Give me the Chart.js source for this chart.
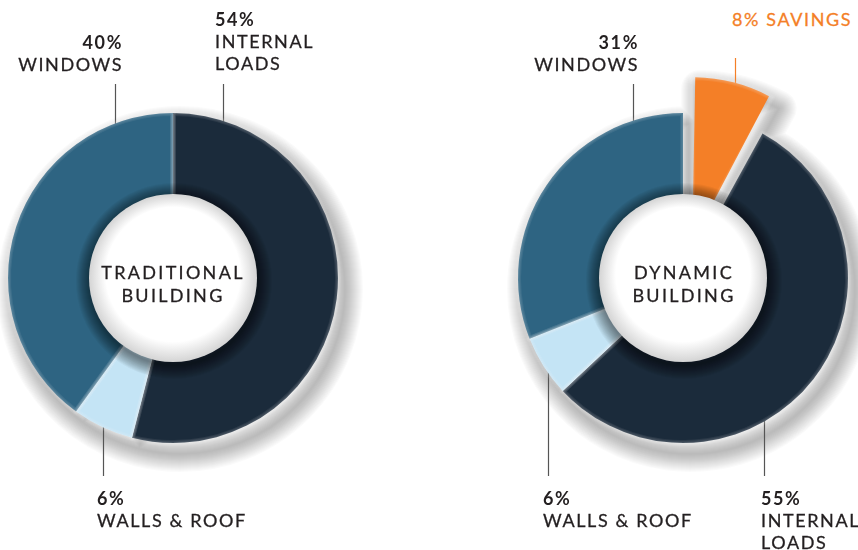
<!DOCTYPE html>
<html><head><meta charset="utf-8">
<script src="https://cdn.jsdelivr.net/npm/chart.js@4.4.1/dist/chart.umd.min.js"></script>
<style>
html,body{margin:0;padding:0;background:#fff;width:858px;height:550px;overflow:hidden;position:relative;font-family:Lato,'Open Sans',sans-serif;color:#231f20}
canvas{position:absolute}
.lbl{position:absolute;font-size:18px;line-height:22px;letter-spacing:1.6px;white-space:nowrap;-webkit-text-stroke:0.3px currentColor}
.lbl b{font-weight:700;-webkit-text-stroke:0}
.r{text-align:right}
.ctr{position:absolute;width:200px;text-align:center;font-size:18px;line-height:23px;letter-spacing:2.3px;-webkit-text-stroke:0.3px currentColor}
</style></head><body>
<canvas id="c1" width="440" height="440" style="left:-47px;top:58px"></canvas>
<canvas id="c2" width="440" height="440" style="left:463px;top:58px"></canvas>

<div class="lbl" style="left:215px;top:8px"><b>54%</b><br>INTERNAL<br>LOADS</div>
<div class="lbl r" style="right:735px;top:31px"><b>40%</b><br>WINDOWS</div>
<div class="lbl" style="left:97px;top:487px"><b>6%</b><br>WALLS &amp; ROOF</div>
<div class="ctr" style="left:73px;top:261px">TRADITIONAL<br>BUILDING</div>

<div class="lbl" style="left:732px;top:8px;color:#f47f27">8% SAVINGS</div>
<div class="lbl r" style="right:219px;top:31px"><b>31%</b><br>WINDOWS</div>
<div class="lbl" style="left:543px;top:487px"><b>6%</b><br>WALLS &amp; ROOF</div>
<div class="lbl" style="left:761px;top:487px"><b>55%</b><br>INTERNAL<br>LOADS</div>
<div class="ctr" style="left:584px;top:261px">DYNAMIC<br>BUILDING</div>

<script>
// ---- data ----
const traditionalLabels = ['Internal Loads', 'Walls & Roof', 'Windows'];
const traditionalValues = [54, 6, 40];
const dynamicLabels = ['Savings', 'Internal Loads', 'Walls & Roof', 'Windows'];
const dynamicValues = [8, 55, 6, 31];

// ---- styles ----
const NAVY = '#1b2b3b', STEEL = '#2e6482', LIGHT = '#c4e4f5', ORANGE = '#f47f27';
const traditionalColors = [NAVY, LIGHT, STEEL];
const dynamicColors = [ORANGE, NAVY, LIGHT, STEEL];
const dynamicOffsets = [148, 0, 0, 0];   // Chart.js moves an arc by offset/4

// leader lines: horizontal distance from centre, end y relative to centre
const traditionalLeaders = [
  {dx: -58, yEnd: -194, color: '#555'},
  {dx: 50, yEnd: -194, color: '#555'},
  {dx: -70, yEnd: 198, color: '#555'}
];
const dynamicLeaders = [
  {dx: -50, yEnd: -194, color: '#555'},
  {dx: 52, yEnd: -240, color: ORANGE},
  {dx: -135, yEnd: 198, color: '#555'},
  {dx: 81, yEnd: 198, color: '#555'}
];

// path of the slices as Chart.js places them
function slicePath(ctx, els, R) {
  ctx.beginPath();
  els.forEach(el => {
    const off = ((el.options && el.options.offset) || 0) / 4;
    const h = (el.startAngle + el.endAngle) / 2;
    const x = el.x + Math.cos(h) * off, y = el.y + Math.sin(h) * off;
    ctx.moveTo(x, y);
    ctx.arc(x, y, R, el.startAngle, el.endAngle);
    ctx.closePath();
  });
}

const donutFx = {
  id: 'donutFx',
  beforeDatasetsDraw(chart, args, opts) {
    const ctx = chart.ctx;
    const meta = chart.getDatasetMeta(0);
    const R = meta.controller.outerRadius;
    const el0 = meta.data[0];
    const cx = el0.x, cy = el0.y;
    // keep exploded slices at the same radius (Chart.js enlarges them)
    meta.data.forEach(el => {
      const off = (el.options && el.options.offset) || 0;
      if (off) {
        const fix = 1 - Math.sin(Math.min(Math.PI, el.circumference || 0));
        el.outerRadius = R - (off / 4) * fix;
      }
    });
    // soft drop shadow (layered strokes)
    ctx.save();
    ctx.translate(7, 11);
    ctx.lineJoin = 'round';
    ctx.strokeStyle = 'rgba(0,0,0,0.02)';
    for (let w = 36; w >= 2; w -= 2) {
      ctx.lineWidth = w;
      slicePath(ctx, meta.data, R);
      ctx.stroke();
    }
    ctx.restore();
    // leader lines (drawn under the ring)
    ctx.save();
    ctx.lineWidth = 1.2;
    (opts.leaders || []).forEach(l => {
      const inner = R - 12;
      const h = Math.sqrt(Math.max(inner * inner - l.dx * l.dx, 0));
      const yStart = l.yEnd < 0 ? cy - h : cy + h;
      ctx.strokeStyle = l.color;
      ctx.beginPath();
      ctx.moveTo(Math.round(cx + l.dx) + 0.5, cy + l.yEnd);
      ctx.lineTo(Math.round(cx + l.dx) + 0.5, yStart);
      ctx.stroke();
    });
    ctx.restore();
  },
  afterDatasetsDraw(chart, args, opts) {
    const ctx = chart.ctx;
    const meta = chart.getDatasetMeta(0);
    const R = meta.controller.outerRadius;
    const el = meta.data[0];
    const cx = el.x, cy = el.y, r = opts.hole || 84;
    // soft light edges on each slice
    ctx.save();
    ctx.lineJoin = 'round';
    ctx.strokeStyle = 'rgba(255,255,255,0.07)';
    meta.data.forEach(e => {
      for (let w = 6; w >= 2; w -= 2) {
        ctx.lineWidth = w;
        slicePath(ctx, [e], R);
        ctx.stroke();
      }
    });
    ctx.restore();
    // shadow of the centre disc on the ring
    ctx.save();
    ctx.strokeStyle = 'rgba(0,0,0,0.04)';
    for (let w = 28; w >= 2; w -= 2) {
      ctx.lineWidth = w;
      ctx.beginPath();
      ctx.arc(cx + 1, cy + 3, r, 0, Math.PI * 2);
      ctx.stroke();
    }
    ctx.restore();
    // centre disc
    ctx.save();
    const g = ctx.createRadialGradient(cx, cy - 18, 0, cx, cy, r);
    g.addColorStop(0, '#ffffff');
    g.addColorStop(0.8, '#ffffff');
    g.addColorStop(1, '#d4d4d4');
    ctx.fillStyle = g;
    ctx.beginPath();
    ctx.arc(cx, cy, r, 0, Math.PI * 2);
    ctx.fill();
    ctx.restore();
  }
};

function makeChart(id, labels, values, colors, offsets, leaders) {
  return new Chart(document.getElementById(id), {
    type: 'pie',
    data: {
      labels: labels,
      datasets: [{
        data: values,
        backgroundColor: colors,
        borderWidth: 0,
        offset: offsets
      }]
    },
    options: {
      responsive: false,
      animation: false,
      events: [],
      radius: 165,
      layout: {padding: 0},
      plugins: {
        legend: {display: false},
        tooltip: {enabled: false},
        donutFx: {leaders: leaders, hole: 84}
      }
    },
    plugins: [donutFx]
  });
}

makeChart('c1', traditionalLabels, traditionalValues, traditionalColors, [0, 0, 0], traditionalLeaders);
makeChart('c2', dynamicLabels, dynamicValues, dynamicColors, dynamicOffsets, dynamicLeaders);
</script>
</body></html>
